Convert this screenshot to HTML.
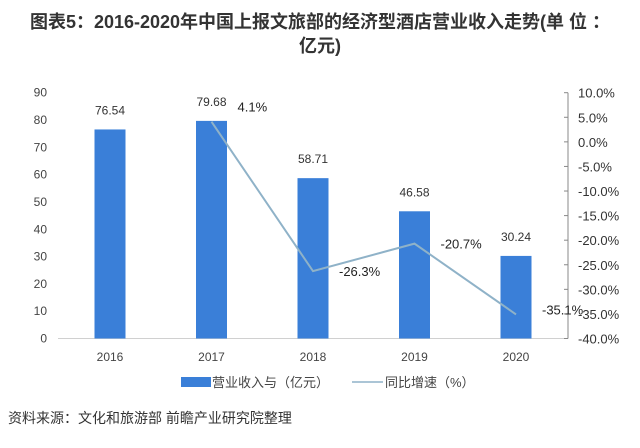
<!DOCTYPE html>
<html><head><meta charset="utf-8"><style>
body{margin:0;background:#fff;width:640px;height:443px;overflow:hidden;font-family:"Liberation Sans","Noto Sans CJK SC",sans-serif;}
svg text{font-family:"Liberation Sans","Noto Sans CJK SC",sans-serif;}
</style></head><body>
<svg width="640" height="443">
<text x="320" y="28" text-anchor="middle" font-size="18" font-weight="bold" fill="#333">图表5：2016-2020年中国上报文旅部的经济型酒店营业收入走势(单 位 ：</text>
<text x="320" y="52" text-anchor="middle" font-size="18" font-weight="bold" fill="#333">亿元)</text>
<g id="plot"></g>
<g>
<rect x="181" y="377" width="30" height="10" fill="#3a7fd8"/>
<text x="212" y="387" font-size="13" fill="#444">营业收入与（亿元）</text>
<line x1="352" y1="382" x2="383" y2="382" stroke="#8fb2c8" stroke-width="1.5"/>
<text x="385" y="387" font-size="13" fill="#444">同比增速（%）</text>
</g>
<text x="8" y="423" font-size="14" fill="#333">资料来源：文化和旅游部 前瞻产业研究院整理</text>
</svg>
<script>
const years=["2016","2017","2018","2019","2020"];
const revenue=[76.54,79.68,58.71,46.58,30.24];
const growth=[null,4.1,-26.3,-20.7,-35.1];
const growthLabels=["","4.1%","-26.3%","-20.7%","-35.1%"];
const leftTicks=[0,10,20,30,40,50,60,70,80,90];
const rightTicks=[10,5,0,-5,-10,-15,-20,-25,-30,-35,-40];
const NS="http://www.w3.org/2000/svg";
const g=document.getElementById('plot');
const yTop=92.7,yBot=338.5;
const yL=v=>yBot-(v/90)*(yBot-yTop);
const yR=v=>yBot-((v+40)/50)*(yBot-yTop);
const xC=i=>110+i*101.5;
function mk(t,a,txt){const e=document.createElementNS(NS,t);for(const k in a)e.setAttribute(k,a[k]);if(txt!==undefined)e.textContent=txt;g.appendChild(e);return e;}
let e=mk('line',{x1:58,y1:yBot,x2:567,y2:yBot,stroke:'#d0d0d0'});


leftTicks.forEach(v=>{const t=mk('text',{x:47,y:yL(v)+4,'text-anchor':'end','font-size':12,fill:'#444'},String(v));

});
e=mk('line',{x1:568,y1:yTop,x2:568,y2:yBot,stroke:'#888'});


rightTicks.forEach(v=>{const y=yR(v);mk('line',{x1:564,y1:y,x2:568,y2:y,stroke:'#888'});
const t=mk('text',{x:578,y:y+5,'font-size':13,fill:'#333'},v.toFixed(1)+'%');

});
years.forEach((yr,i)=>{const x=xC(i);
const b=mk('rect',{x:x-15.5,y:yL(revenue[i]),width:31,height:yBot-yL(revenue[i]),fill:'#3a7fd8'});


const l=mk('text',{x:x,y:yL(revenue[i])-15,'text-anchor':'middle','font-size':12,fill:'#333'},revenue[i].toFixed(2));


const xl=mk('text',{x:x,y:361,'text-anchor':'middle','font-size':12,fill:'#444'},yr);

});
let pts=[];growth.forEach((v,i)=>{if(v!==null)pts.push(xC(i)+','+yR(v));});
const pl=mk('polyline',{points:pts.join(' '),fill:'none',stroke:'#8fb2c8','stroke-width':2});


growth.forEach((v,i)=>{if(v===null)return;const dy=i===1?-10:(i===4?0:5);
const t=mk('text',{x:xC(i)+26,y:yR(v)+dy,'font-size':13,fill:'#222'},growthLabels[i]);

});
</script>
</body></html>
